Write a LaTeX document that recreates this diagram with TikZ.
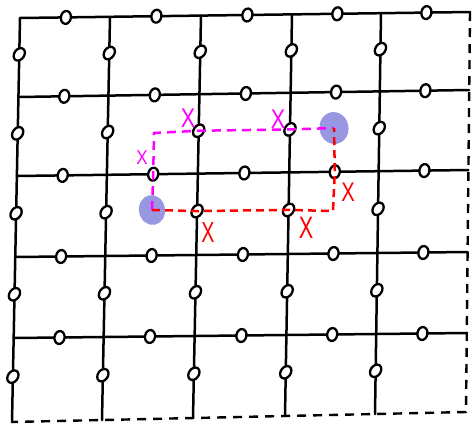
\documentclass[tikz,border=0pt]{standalone}
\usepackage{fontspec}
\setmainfont{Liberation Sans}
\usetikzlibrary{shapes.geometric}
\definecolor{blobc}{RGB}{152,152,226}
\definecolor{magc}{RGB}{255,0,255}
\definecolor{redc}{RGB}{255,0,0}
\tikzset{
  gridline/.style={line width=2.5pt, line cap=round},
  borderline/.style={line width=2.4pt, dash pattern=on 9pt off 7pt},
  qhor/.style={ellipse, draw, line width=2.3pt, fill=white, minimum width=10pt, minimum height=13pt, inner sep=0pt, rotate=-10},
  qver/.style={ellipse, draw, line width=2.3pt, fill=white, minimum width=13.5pt, minimum height=10pt, inner sep=0pt, rotate=55},
  blobst/.style={ellipse, fill=blobc, draw=none, inner sep=0pt},
  magpath/.style={draw=magc, line width=2.5pt, dash pattern=on 9pt off 6pt},
  redpath/.style={draw=redc, line width=2.5pt, dash pattern=on 8pt off 5pt},
  xlab/.style={inner sep=0pt, font=\fontsize{#1}{#1}\selectfont}
}
\begin{document}
\begin{tikzpicture}[x=1pt,y=-1pt]
\useasboundingbox (0,0) rectangle (473,424);
% grid corners
\foreach \i in {0,...,5}{
  \foreach \j in {0,...,5}{
    \pgfmathsetmacro{\xt}{{20,110,201,292,381,470}[\i]}
    \pgfmathsetmacro{\xb}{{12,102,193,285,375,466}[\i]}
    \pgfmathsetmacro{\yl}{{18,97,176,257,338,422}[\j]}
    \pgfmathsetmacro{\yr}{{12,90,170,252,333,412}[\j]}
    \coordinate (p-\i-\j) at ({\xt+(\xb-\xt)*\j/5},{\yl+(\yr-\yl)*\i/5});
  }
}
% solid grid
\foreach \i in {0,...,4} \draw[gridline] (p-\i-0) -- (p-\i-5);
\foreach \j in {0,...,4} \draw[gridline] (p-0-\j) -- (p-5-\j);
% dashed border
\draw[borderline] (p-5-0) -- (p-5-5) -- (p-0-5);
% qubits
\foreach \i [evaluate=\i as \ii using int(\i+1)] in {0,...,4}{
  \foreach \j [evaluate=\j as \jj using int(\j+1)] in {0,...,4}{
    \path (p-\i-\j) -- (p-\ii-\j) node[qhor, pos=0.51] (qh-\i-\j) {};
    \path (p-\i-\j) -- (p-\i-\jj) node[qver, pos=0.46] (qv-\i-\j) {};
  }
}
% anyons
\node[blobst, minimum width=26pt, minimum height=30pt, rotate=10] (b1) at (152,210) {};
\node[blobst, minimum width=29pt, minimum height=32pt, rotate=10] (b2) at (334,128) {};
% paths
\coordinate (mc) at (154,133);
\coordinate (rc) at (333,211);
\draw[magpath] (b1.center) -- (qh-1-2.center) -- (mc) -- (qv-2-1.center) -- (qv-3-1.center) -- (b2.center);
\draw[redpath] (b1.center) -- (qv-2-2.center) -- (qv-3-2.center) -- (rc) -- (qh-3-2.center) -- (b2.center);
% labels
\node[xlab=27, text=magc, xscale=0.8] (xm1) at (188,118) {X};
\node[xlab=27, text=magc, xscale=0.8] (xm2) at (278,119) {X};
\node[xlab=20, text=magc, xscale=0.85] (xm3) at (142,158) {X};
\node[xlab=29, text=redc, xscale=0.68] (xr1) at (208,233) {X};
\node[xlab=31, text=redc, xscale=0.7] (xr2) at (306,228) {X};
\node[xlab=27, text=redc, xscale=0.75] (xr3) at (348,192) {X};
\end{tikzpicture}
\end{document}
